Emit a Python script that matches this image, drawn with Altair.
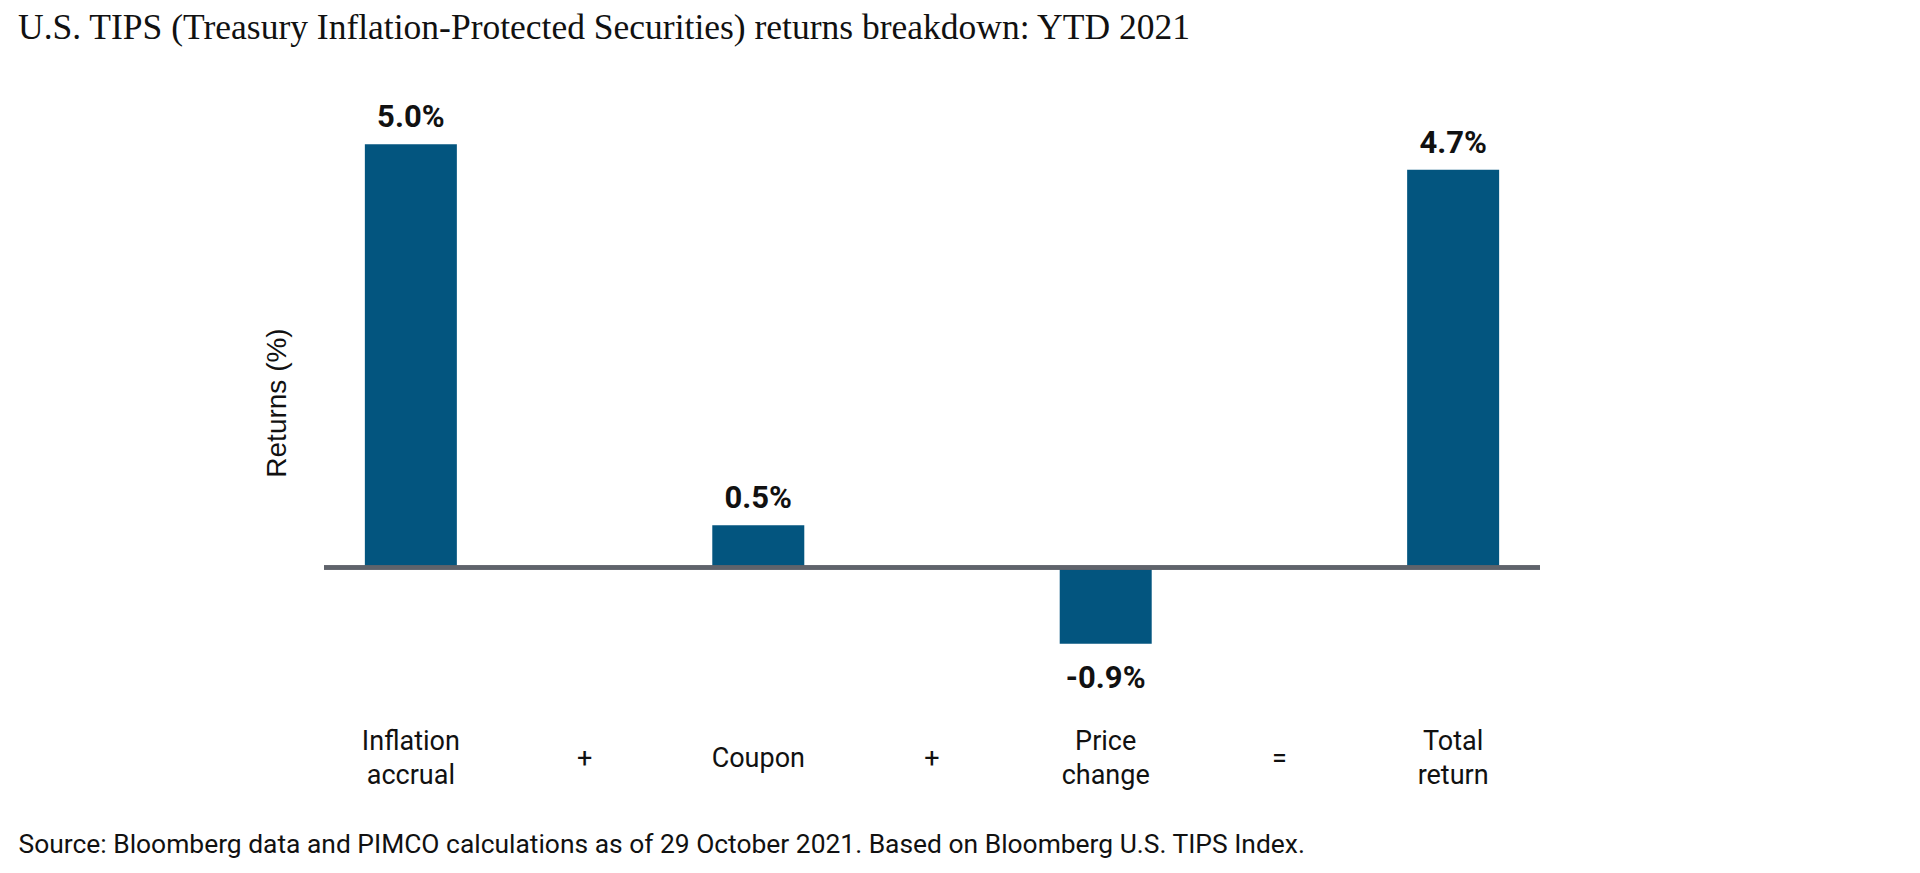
import altair as alt
import pandas as pd

# Data
axis_categories = ["Inflation accrual", "+", "Coupon", "+ ", "Price change", "=", "Total return"]
bar_categories = ["Inflation accrual", "Coupon", "Price change", "Total return"]
bar_values = [5.0, 0.5, -0.9, 4.7]

title_text = "U.S. TIPS (Treasury Inflation-Protected Securities) returns breakdown: YTD 2021"
source_text = "Source: Bloomberg data and PIMCO calculations as of 29 October 2021. Based on Bloomberg U.S. TIPS Index."

df = pd.DataFrame({"cat": bar_categories, "value": bar_values})

BAR = "#03557f"
LINE = "#5f636b"
PLOT_W = 1216
PLOT_H = 601

two_line_test = "indexof(trim(datum.label), ' ') > 0"

x_enc = alt.X(
    "cat:N",
    sort=None,
    scale=alt.Scale(domain=axis_categories, paddingInner=0, paddingOuter=0),
    axis=alt.Axis(
        title=source_text,
        titleFont="Roboto",
        titleFontSize=26.4,
        titleFontWeight="normal",
        titleColor="#111111",
        titleAlign="left",
        titleBaseline="middle",
        titleX=-306,
        titleY=141,
        labelExpr="split(trim(datum.label), ' ')",
        labelFont="Roboto",
        labelFontSize=27,
        labelColor="#111111",
        labelLineHeight=34,
        labelBaseline="middle",
        labelPadding={"condition": {"test": two_line_test, "value": 38}, "value": 55},
        labelAngle=0,
        ticks=False,
        tickSize=0,
        domain=False,
        grid=False,
    ),
)

y_enc = alt.Y(
    "value:Q",
    scale=alt.Scale(domain=[-1.6, 5.5], nice=False, zero=True),
    axis=alt.Axis(
        title="Returns (%)",
        titleFont="Liberation Sans",
        titleFontSize=28,
        titleFontWeight="normal",
        titleColor="#111111",
        titleAngle=270,
        titleBaseline="middle",
        titleAlign="center",
        titleX=-47,
        titleY=PLOT_H / 2,
        labels=False,
        ticks=False,
        tickSize=0,
        domain=False,
        grid=False,
    ),
)

base = alt.Chart(df).transform_calculate(
    label="(datum.value < 0 ? '-' : '') + format(abs(datum.value), '.1f') + '%'"
)

bars = base.mark_bar(width=92, color=BAR).encode(x=x_enc, y=y_enc)

zero_rule = alt.Chart(df).mark_rule(color=LINE, strokeWidth=4).encode(y=alt.datum(0))

pos_text = base.transform_filter("datum.value >= 0").mark_text(
    font="Roboto", fontSize=31, fontWeight="bold", color="#111111",
    baseline="alphabetic", dy=-17
).encode(x=alt.X("cat:N", sort=None), y="value:Q", text="label:N")

neg_text = base.transform_filter("datum.value < 0").mark_text(
    font="Roboto", fontSize=31, fontWeight="bold", color="#111111",
    baseline="top", dy=20
).encode(x=alt.X("cat:N", sort=None), y="value:Q", text="label:N")

chart = alt.layer(bars, zero_rule, pos_text, neg_text).properties(
    width=PLOT_W,
    height=PLOT_H,
    background="white",
    autosize=alt.AutoSizeParams(type="none"),
    padding={"left": 316, "top": 94, "right": 100, "bottom": 160},
    title=alt.TitleParams(
        text=title_text,
        font="Liberation Serif",
        fontSize=35.5,
        fontWeight="normal",
        color="#111111",
        anchor="start",
        frame="group",
        baseline="alphabetic",
        offset=28,
        dx=-306,
    ),
).configure_view(strokeWidth=0, stroke="transparent")

chart.save("out.html", embed_options={"renderer": "svg", "actions": False})
